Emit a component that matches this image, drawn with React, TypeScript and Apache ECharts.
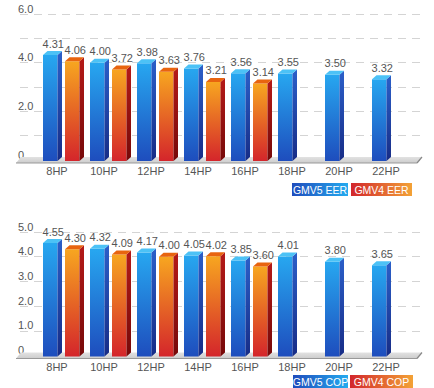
import React, { useEffect, useRef } from 'react';
import * as echarts from 'echarts';

const categories = ['8HP', '10HP', '12HP', '14HP', '16HP', '18HP', '20HP', '22HP'];
const eerGMV5 = [4.31, 4.0, 3.98, 3.76, 3.56, 3.55, 3.5, 3.32];
const eerGMV4: (number | null)[] = [4.06, 3.72, 3.63, 3.21, 3.14, null, null, null];
const copGMV5 = [4.55, 4.32, 4.17, 4.05, 3.85, 4.01, 3.8, 3.65];
const copGMV4: (number | null)[] = [4.3, 4.09, 4.0, 4.02, 3.6, null, null, null];
const eerMax = 6;
const copMax = 5;
const eerLegend = ['GMV5 EER', 'GMV4 EER'];
const copLegend = ['GMV5 COP', 'GMV4 COP'];

const FONT = '"Liberation Sans", Arial, sans-serif';

const bluePal = {
  front: ['#27a7f0', '#1e4dbd'],
  side: ['#2b5fc9', '#172c86'],
  top: '#4cc2f6',
};
const redPal = {
  front: ['#f7a620', '#d4252b'],
  side: ['#b51a18', '#760909'],
  top: '#e8640f',
};

function vgrad(a: string, b: string) {
  return { type: 'linear', x: 0, y: 0, x2: 0, y2: 1, colorStops: [{ offset: 0, color: a }, { offset: 1, color: b }] };
}
function hgrad(a: string, b: string) {
  return { type: 'linear', x: 0, y: 0, x2: 1, y2: 0, colorStops: [{ offset: 0, color: a }, { offset: 1, color: b }] };
}

function barRenderer(offset: number, pal: any) {
  return (params: any, api: any) => {
    const v = api.value(1);
    if (v == null || isNaN(v)) return null;
    const idx = api.value(0);
    const top = api.coord([idx, v]);
    const base = api.coord([idx, 0]);
    const fw = 14.5, sd = 4.5, dy = 4;
    const x0 = top[0] + offset;
    const x1 = x0 + fw;
    const yT = top[1];
    const yB = base[1] + 1;
    return {
      type: 'group',
      children: [
        { type: 'polygon', shape: { points: [[x0, yT], [x1, yT], [x1, yB], [x0, yB]] }, style: { fill: vgrad(pal.front[0], pal.front[1]) } },
        { type: 'polygon', shape: { points: [[x1, yT], [x1 + sd, yT - dy], [x1 + sd, yB - dy], [x1, yB]] }, style: { fill: vgrad(pal.side[0], pal.side[1]) } },
        { type: 'polygon', shape: { points: [[x0, yT], [x0 + sd, yT - dy], [x1 + sd, yT - dy], [x1, yT]] }, style: { fill: pal.top } },
        {
          type: 'text', x: x0 + fw / 2 + 3, y: yT - dy - 2,
          style: { text: v.toFixed(2), fill: '#555', font: '11px ' + FONT, align: 'center', verticalAlign: 'bottom' },
        },
      ],
    };
  };
}

function floorRenderer(params: any, api: any) {
  const cs = params.coordSys;
  const bot = cs.y + cs.height + 3;
  const topY = bot - 6;
  const l = cs.x, r = cs.x + cs.width;
  return {
    type: 'group',
    children: [
      { type: 'polygon', shape: { points: [[l - 4, bot], [l + 1, topY], [r, topY], [r - 5, bot]] }, style: { fill: vgrad('#e2e2e2', '#cccccc') } },
      { type: 'line', shape: { x1: l - 4, y1: bot, x2: r - 5, y2: bot }, style: { stroke: '#999999', lineWidth: 1.2 } },
      { type: 'line', shape: { x1: r - 5, y1: bot, x2: r, y2: topY }, style: { stroke: '#888888', lineWidth: 1.2 } },
    ],
  };
}

export default function App() {
  const ref = useRef<HTMLDivElement>(null);
  useEffect(() => {
    if (!ref.current) return;
    const chart = echarts.init(ref.current, null, { renderer: 'svg' });
    const grids = [
      { left: 20, width: 402, top: 14, height: 146 },
      { left: 33.5, width: 376, top: 14, height: 146 },
      { left: 20, width: 402, top: 232, height: 123.5 },
      { left: 33.5, width: 376, top: 232, height: 123.5 },
    ];
    const wideY = (max: number, step: number, gi: number) => ({
      type: 'value', gridIndex: gi, min: 0, max, interval: 1,
      axisLine: { show: false }, axisTick: { show: false },
      axisLabel: {
        inside: true, margin: -2, verticalAlign: 'bottom', color: '#555', fontSize: 11, fontFamily: FONT,
        formatter: (val: number) => (val % step !== 0 ? '' : val === 0 ? '0' : val.toFixed(1)),
      },
      splitLine: { show: true, lineStyle: { color: '#d4d4d4', type: [8, 6], width: 1 } },
    });
    const hiddenY = (max: number, gi: number) => ({
      type: 'value', gridIndex: gi, min: 0, max, show: false, splitLine: { show: false },
    });
    const catX = (gi: number, margin: number) => ({
      type: 'category', gridIndex: gi, data: categories,
      axisLine: { show: false }, axisTick: { show: false },
      axisLabel: { color: '#555', fontSize: 11, fontFamily: FONT, margin },
    });
    const hiddenX = (gi: number) => ({ type: 'value', gridIndex: gi, min: 0, max: 1, show: false, splitLine: { show: false } });

    const legendGraphic = (labels: string[], y: number, boxes: number[][]) => [
      { type: 'rect', shape: { x: boxes[0][0], y, width: boxes[0][1], height: 13 }, style: { fill: hgrad('#1f4cbc', '#24aaef') } },
      { type: 'text', x: boxes[0][0] + boxes[0][1] / 2, y: y + 7, style: { text: labels[0], fill: '#fff', font: '10.5px ' + FONT, align: 'center', verticalAlign: 'middle' } },
      { type: 'rect', shape: { x: boxes[1][0], y, width: boxes[1][1], height: 13 }, style: { fill: hgrad('#d2262c', '#f3a236') } },
      { type: 'text', x: boxes[1][0] + boxes[1][1] / 2, y: y + 7, style: { text: labels[1], fill: '#fff', font: '10.5px ' + FONT, align: 'center', verticalAlign: 'middle' } },
    ];

    const mk = (arr: (number | null)[]) => arr.map((v, i) => [i, v == null ? '-' : v]);

    chart.setOption({
      animation: false,
      backgroundColor: '#ffffff',
      textStyle: { fontFamily: FONT },
      grid: grids,
      xAxis: [hiddenX(0), catX(1, 5), hiddenX(2), catX(3, 6)],
      yAxis: [wideY(eerMax, 2, 0), hiddenY(eerMax, 1), wideY(copMax, 1, 2), hiddenY(copMax, 3)],
      series: [
        { type: 'custom', xAxisIndex: 0, yAxisIndex: 0, z: 1, data: [[0, 0]], renderItem: floorRenderer },
        { type: 'custom', xAxisIndex: 2, yAxisIndex: 2, z: 1, data: [[0, 0]], renderItem: floorRenderer },
        { type: 'custom', name: eerLegend[0], xAxisIndex: 1, yAxisIndex: 1, z: 3, data: mk(eerGMV5), renderItem: barRenderer(-14, bluePal), encode: { x: 0, y: 1 } },
        { type: 'custom', name: eerLegend[1], xAxisIndex: 1, yAxisIndex: 1, z: 3, data: mk(eerGMV4), renderItem: barRenderer(8, redPal), encode: { x: 0, y: 1 } },
        { type: 'custom', name: copLegend[0], xAxisIndex: 3, yAxisIndex: 3, z: 3, data: mk(copGMV5), renderItem: barRenderer(-14, bluePal), encode: { x: 0, y: 1 } },
        { type: 'custom', name: copLegend[1], xAxisIndex: 3, yAxisIndex: 3, z: 3, data: mk(copGMV4), renderItem: barRenderer(8, redPal), encode: { x: 0, y: 1 } },
      ],
      graphic: [
        ...legendGraphic(eerLegend, 183, [[292, 56], [351, 61]]),
        ...legendGraphic(copLegend, 375, [[293, 55], [350, 63]]),
      ],
    });
    return () => chart.dispose();
  }, []);
  return <div ref={ref} style={{ position: 'absolute', left: 0, top: 0, width: 434, height: 388 }} />;
}
